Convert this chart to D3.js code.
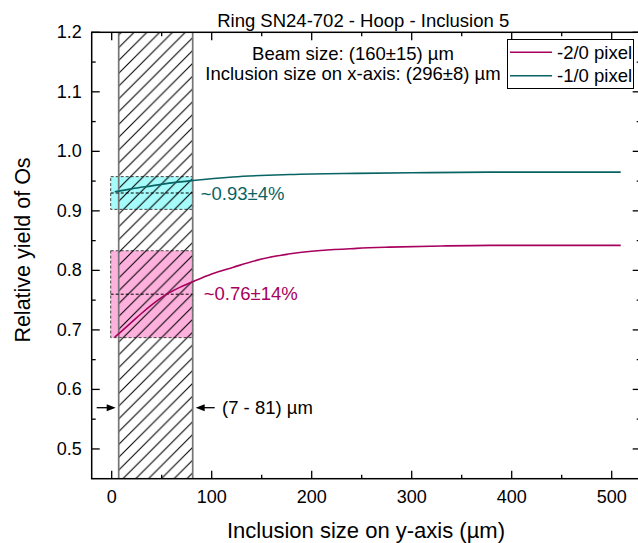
<!DOCTYPE html>
<html>
<head>
<meta charset="utf-8">
<script src="https://cdn.jsdelivr.net/npm/d3@7"></script>
<style>
  html, body { margin: 0; padding: 0; background: #fff; }
  svg { display: block; font-family: "Liberation Sans", Arial, sans-serif; }
</style>
</head>
<body>
<svg id="chart" width="638" height="543"></svg>
<script>
// Relative Os yield vs. inclusion size along y
const xPink = [3, 10, 20, 30, 40, 55, 70, 81, 100, 121, 150, 188, 245, 278, 330, 378, 450, 509];
const yPink = [0.688, 0.698, 0.713, 0.728, 0.742, 0.760, 0.773, 0.781, 0.794, 0.805, 0.819, 0.830, 0.837, 0.839, 0.841, 0.842, 0.842, 0.842];
const xTeal = [3, 20, 40, 60, 81, 121, 178, 245, 300, 378, 509];
const yTeal = [0.932, 0.937, 0.942, 0.947, 0.951, 0.957, 0.961, 0.963, 0.964, 0.965, 0.965];

const seriesNames = ["-2/0 pixel", "-1/0 pixel"];
const seriesColors = ["#a8005e", "#086363"];

// Estimated yield ranges (center, half-width) over the inclusion size window
const rangeCenters = [0.76, 0.93];
const rangeHalf = [0.073, 0.0275];
const rangeLabels = ["~0.76\u00B114%", "~0.93\u00B14%"];
const rangeFills = ["#ffb1de", "#a6fbfb"];
const rangeX = [-1, 81];

// Size window
const bandX = [7, 81];
const bandLabel = "(7 - 81) \u00B5m";

const xMajor = [0, 100, 200, 300, 400, 500];
const xMinor = [-50, 50, 150, 250, 350, 450, 550];
const yMajor = [0.5, 0.6, 0.7, 0.8, 0.9, 1.0, 1.1, 1.2];
const yMinor = [0.45, 0.55, 0.65, 0.75, 0.85, 0.95, 1.05, 1.15];

const title = "Ring SN24-702 - Hoop - Inclusion 5";
const note1 = "Beam size: (160\u00B115) \u00B5m";
const note2 = "Inclusion size on x-axis: (296\u00B18) \u00B5m";
const xTitle = "Inclusion size on y-axis (\u00B5m)";
const yTitle = "Relative yield of Os";

const svg = d3.select("#chart");
const L = 91.7, R = 640.7, T = 32.3, B = 478.7;
const x = d3.scaleLinear().domain([-20, 529]).range([L, R]);
const y = d3.scaleLinear().domain([0.45, 1.2]).range([B, T]);

const defs = svg.append("defs");
const pat = defs.append("pattern")
  .attr("id", "hatch").attr("patternUnits", "userSpaceOnUse")
  .attr("width", 12.8).attr("height", 12.8);
pat.append("path")
  .attr("d", "M0,12.8 L12.8,0 M-3,3 L3,-3 M9.8,15.8 L15.8,9.8")
  .attr("stroke", "#000").attr("stroke-width", 1.05).attr("fill", "none");
defs.append("clipPath").attr("id", "plotclip")
  .append("rect").attr("x", L).attr("y", T).attr("width", R - L).attr("height", B - T);

// Range boxes
const boxes = svg.append("g");
rangeCenters.forEach((c, i) => {
  const y0 = y(c + rangeHalf[i]), y1 = y(c - rangeHalf[i]);
  boxes.append("rect")
    .attr("x", x(rangeX[0])).attr("y", y0)
    .attr("width", x(rangeX[1]) - x(rangeX[0])).attr("height", y1 - y0)
    .attr("fill", rangeFills[i])
    .attr("stroke", "#444").attr("stroke-width", 1).attr("stroke-dasharray", "3,2");
});

// Hatched size window
svg.append("rect")
  .attr("x", x(bandX[0])).attr("y", T)
  .attr("width", x(bandX[1]) - x(bandX[0])).attr("height", B - T)
  .attr("fill", "url(#hatch)");
bandX.forEach(v => {
  svg.append("line").attr("x1", x(v)).attr("x2", x(v)).attr("y1", T).attr("y2", B)
    .attr("stroke", "#757575").attr("stroke-width", 1.7);
});

// Center dashed lines
rangeCenters.forEach(c => {
  svg.append("line")
    .attr("x1", x(rangeX[0])).attr("x2", x(rangeX[1]))
    .attr("y1", y(c)).attr("y2", y(c))
    .attr("stroke", "#000").attr("stroke-width", 1).attr("stroke-dasharray", "3,2");
});

// Curves
const line = d3.line().x(d => x(d[0])).y(d => y(d[1])).curve(d3.curveMonotoneX);
const curves = [d3.zip(xPink, yPink), d3.zip(xTeal, yTeal)];
curves.forEach((pts, i) => {
  svg.append("path").datum(pts)
    .attr("d", line).attr("fill", "none")
    .attr("stroke", seriesColors[i]).attr("stroke-width", 1.6)
    .attr("clip-path", "url(#plotclip)");
});

// Range labels
rangeCenters.forEach((c, i) => {
  svg.append("text")
    .attr("x", x(rangeX[1]) + (i === 0 ? 11 : 8))
    .attr("y", i === 0 ? y(c) + 6 : y(c) + 6.5)
    .attr("font-size", 18.5).attr("fill", seriesColors[i])
    .text(rangeLabels[i]);
});

// Axes
const axG = svg.append("g").attr("stroke", "#000").attr("stroke-width", 1.5);
axG.append("rect").attr("x", L).attr("y", T).attr("width", R - L).attr("height", B - T)
  .attr("fill", "none");
const tk = svg.append("g").attr("stroke", "#000").attr("stroke-width", 1.3);
xMajor.forEach(v => {
  tk.append("line").attr("x1", x(v)).attr("x2", x(v)).attr("y1", B).attr("y2", B - 8);
  tk.append("line").attr("x1", x(v)).attr("x2", x(v)).attr("y1", T).attr("y2", T + 8);
});
xMinor.filter(v => x(v) > L && x(v) < R).forEach(v => {
  tk.append("line").attr("x1", x(v)).attr("x2", x(v)).attr("y1", B).attr("y2", B - 4);
  tk.append("line").attr("x1", x(v)).attr("x2", x(v)).attr("y1", T).attr("y2", T + 4);
});
yMajor.forEach(v => {
  tk.append("line").attr("x1", L).attr("x2", L + 8).attr("y1", y(v)).attr("y2", y(v));
  tk.append("line").attr("x1", R).attr("x2", R - 8).attr("y1", y(v)).attr("y2", y(v));
});
yMinor.filter(v => y(v) < B && y(v) > T).forEach(v => {
  tk.append("line").attr("x1", L).attr("x2", L + 4).attr("y1", y(v)).attr("y2", y(v));
  tk.append("line").attr("x1", R).attr("x2", R - 4).attr("y1", y(v)).attr("y2", y(v));
});

const fmtY = d3.format(".1f");
svg.append("g").selectAll("text").data(xMajor).join("text")
  .attr("x", d => x(d)).attr("y", B + 24).attr("text-anchor", "middle")
  .attr("font-size", 18).text(d => d);
svg.append("g").selectAll("text").data(yMajor).join("text")
  .attr("x", L - 10).attr("y", d => y(d) + 6).attr("text-anchor", "end")
  .attr("font-size", 18).text(d => fmtY(d));

// Titles
svg.append("text").attr("x", (L + R) / 2 - 3).attr("y", 27).attr("text-anchor", "middle")
  .attr("font-size", 18.5).text(title);
svg.append("text").attr("x", 353).attr("y", 59.5).attr("text-anchor", "middle")
  .attr("font-size", 18.5).text(note1);
svg.append("text").attr("x", 353).attr("y", 79.5).attr("text-anchor", "middle")
  .attr("font-size", 18.5).text(note2);
svg.append("text").attr("x", 366).attr("y", 538).attr("text-anchor", "middle")
  .attr("font-size", 22).text(xTitle);
svg.append("text").attr("transform", "translate(30,250) rotate(-90)")
  .attr("text-anchor", "middle").attr("font-size", 21.5).text(yTitle);

// Size window arrows
const ay = 407.7;
const arrow = (tipX, dir) => {
  const g = svg.append("g");
  g.append("line").attr("x1", tipX - dir * 22).attr("x2", tipX - dir * 6)
    .attr("y1", ay).attr("y2", ay).attr("stroke", "#000").attr("stroke-width", 1.3);
  g.append("path")
    .attr("d", `M${tipX - dir * 3},${ay} L${tipX - dir * 12},${ay - 3.5} L${tipX - dir * 12},${ay + 3.5} Z`)
    .attr("fill", "#000");
};
arrow(x(bandX[0]), 1);
arrow(x(bandX[1]), -1);
svg.append("text").attr("x", 222).attr("y", 414).attr("font-size", 18.5).text(bandLabel);

// Legend
const lg = svg.append("g");
lg.append("rect").attr("x", 507.5).attr("y", 39.5).attr("width", 126).attr("height", 49)
  .attr("fill", "#fff").attr("stroke", "#000").attr("stroke-width", 1);
seriesNames.forEach((n, i) => {
  const ly = 52.3 + i * 23.4;
  lg.append("line").attr("x1", 510).attr("x2", 552).attr("y1", ly).attr("y2", ly)
    .attr("stroke", seriesColors[i]).attr("stroke-width", 1.6);
  lg.append("text").attr("x", 557).attr("y", ly + 6.5).attr("font-size", 18.5).text(n);
});
</script>
</body>
</html>
